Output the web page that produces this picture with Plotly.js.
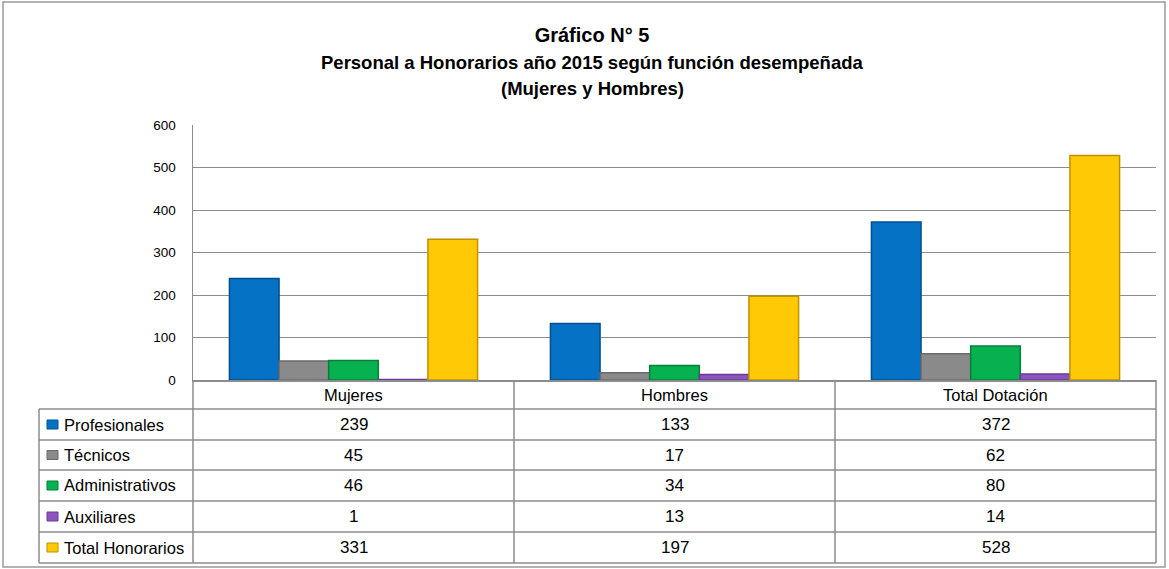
<!DOCTYPE html>
<html>
<head>
<meta charset="utf-8">
<script src="https://cdn.plot.ly/plotly-3.0.1.min.js"></script>
<style>
html,body{margin:0;padding:0;background:#fff;}
#chart{width:1169px;height:569px;}
</style>
</head>
<body>
<div id="chart"></div>
<script>
const categories = ['Mujeres', 'Hombres', 'Total Dotación'];
const seriesNames = ['Profesionales', 'Técnicos', 'Administrativos', 'Auxiliares', 'Total Honorarios'];
const profesionales = [239, 133, 372];
const tecnicos = [45, 17, 62];
const administrativos = [46, 34, 80];
const auxiliares = [1, 13, 14];
const totalHonorarios = [331, 197, 528];
const yTicks = [0, 100, 200, 300, 400, 500, 600];
const titleLines = ['Gráfico N° 5', 'Personal a Honorarios año 2015 según función desempeñada', '(Mujeres y Hombres)'];

const seriesValues = [profesionales, tecnicos, administrativos, auxiliares, totalHonorarios];
const fills = ['#0672C6', '#8A8A8A', '#07B14F', '#8C54BE', '#FFCA05'];
const edges = ['#03508E', '#6A6A6A', '#05803A', '#6A3A96', '#C09000'];

const FONT = '"Liberation Sans Narrow", "Arial Narrow", "Liberation Sans", Arial, sans-serif';
const L = 193, R = 1156, T = 125, B = 380;
const W = R - L, H = B - T;
const px = p => (p - L) / W;
const py = p => (B - p) / H;

const traces = seriesNames.map((name, i) => ({
  type: 'bar',
  name: name,
  x: categories,
  y: seriesValues[i],
  marker: {color: fills[i], line: {color: edges[i], width: 1.5}},
  hoverinfo: 'x+y+name'
}));

const gridColor = '#8C8C8C';
const shapes = [];
const annotations = [];

// outer frame
shapes.push({type: 'rect', xref: 'paper', yref: 'paper', x0: px(3), x1: px(1165), y0: py(2), y1: py(567),
  line: {color: '#9A9A9A', width: 1.5}, fillcolor: 'rgba(0,0,0,0)', layer: 'below'});

// table geometry
const rowEdges = [380, 409, 440, 470, 501, 532, 563];
const colEdges = [193, 514, 835, 1156];
const labelLeft = 39;
for (let r = 1; r < rowEdges.length; r++) {
  shapes.push({type: 'line', xref: 'paper', yref: 'paper', x0: px(labelLeft), x1: px(R), y0: py(rowEdges[r]), y1: py(rowEdges[r]),
    line: {color: gridColor, width: 1.5}});
}
shapes.push({type: 'line', xref: 'paper', yref: 'paper', x0: px(labelLeft), x1: px(labelLeft), y0: py(rowEdges[1]), y1: py(rowEdges[6]),
  line: {color: gridColor, width: 1.5}});
colEdges.forEach(c => {
  shapes.push({type: 'line', xref: 'paper', yref: 'paper', x0: px(c), x1: px(c), y0: py(380), y1: py(rowEdges[6]),
    line: {color: gridColor, width: 1.5}});
});

// header labels
categories.forEach((c, j) => {
  annotations.push({xref: 'paper', yref: 'paper', x: px((colEdges[j] + colEdges[j + 1]) / 2), y: py((rowEdges[0] + rowEdges[1]) / 2),
    text: c, showarrow: false, xanchor: 'center', yanchor: 'middle', font: {family: FONT, size: 16.5, color: '#000'}});
});

// rows
seriesNames.forEach((name, i) => {
  const yc = (rowEdges[i + 1] + rowEdges[i + 2]) / 2;
  shapes.push({type: 'rect', xref: 'paper', yref: 'paper', x0: px(47), x1: px(58), y0: py(yc - 4.5), y1: py(yc + 4.5),
    line: {color: edges[i], width: 1}, fillcolor: fills[i]});
  annotations.push({xref: 'paper', yref: 'paper', x: px(62), y: py(yc), text: name, showarrow: false,
    xanchor: 'left', yanchor: 'middle', font: {family: FONT, size: 16.5, color: '#000'}});
  seriesValues[i].forEach((v, j) => {
    annotations.push({xref: 'paper', yref: 'paper', x: px((colEdges[j] + colEdges[j + 1]) / 2), y: py(yc),
      text: String(v), showarrow: false, xanchor: 'center', yanchor: 'middle', font: {family: FONT, size: 17, color: '#000'}});
  });
});

// title lines 2 and 3
const TCX = 592;
annotations.push({xref: 'paper', yref: 'paper', x: px(TCX), y: py(63), text: '<b>' + titleLines[1] + '</b>', showarrow: false,
  xanchor: 'center', yanchor: 'middle', font: {family: FONT, size: 18.5, color: '#000'}});
annotations.push({xref: 'paper', yref: 'paper', x: px(TCX), y: py(88), text: '<b>' + titleLines[2] + '</b>', showarrow: false,
  xanchor: 'center', yanchor: 'middle', font: {family: FONT, size: 18.5, color: '#000'}});

const layout = {
  width: 1169, height: 569,
  margin: {l: L, r: 1169 - R, t: T, b: 569 - B, pad: 0},
  paper_bgcolor: '#fff', plot_bgcolor: '#fff',
  title: {text: '<b>' + titleLines[0] + '</b>', x: TCX / 1169, xanchor: 'center', y: 1 - 35 / 569, yanchor: 'middle',
    font: {family: FONT, size: 20, color: '#000'}},
  showlegend: false,
  barmode: 'group', bargap: 0.227, bargroupgap: 0,
  xaxis: {type: 'category', showticklabels: false, ticks: '', showgrid: false, zeroline: false,
    showline: true, linecolor: gridColor, linewidth: 1.5, fixedrange: true},
  yaxis: {range: [0, 600], tickvals: yTicks, ticktext: yTicks.map(String), showgrid: true, gridcolor: gridColor, gridwidth: 1,
    zeroline: false, showline: true, linecolor: gridColor, linewidth: 1.5, ticks: 'outside', ticklen: 13, tickcolor: 'rgba(0,0,0,0)',
    tickfont: {family: FONT, size: 13.5, color: '#000'}, fixedrange: true},
  shapes: shapes,
  annotations: annotations,
  font: {family: FONT}
};

Plotly.newPlot('chart', traces, layout, {displayModeBar: false, staticPlot: true});
</script>
</body>
</html>
